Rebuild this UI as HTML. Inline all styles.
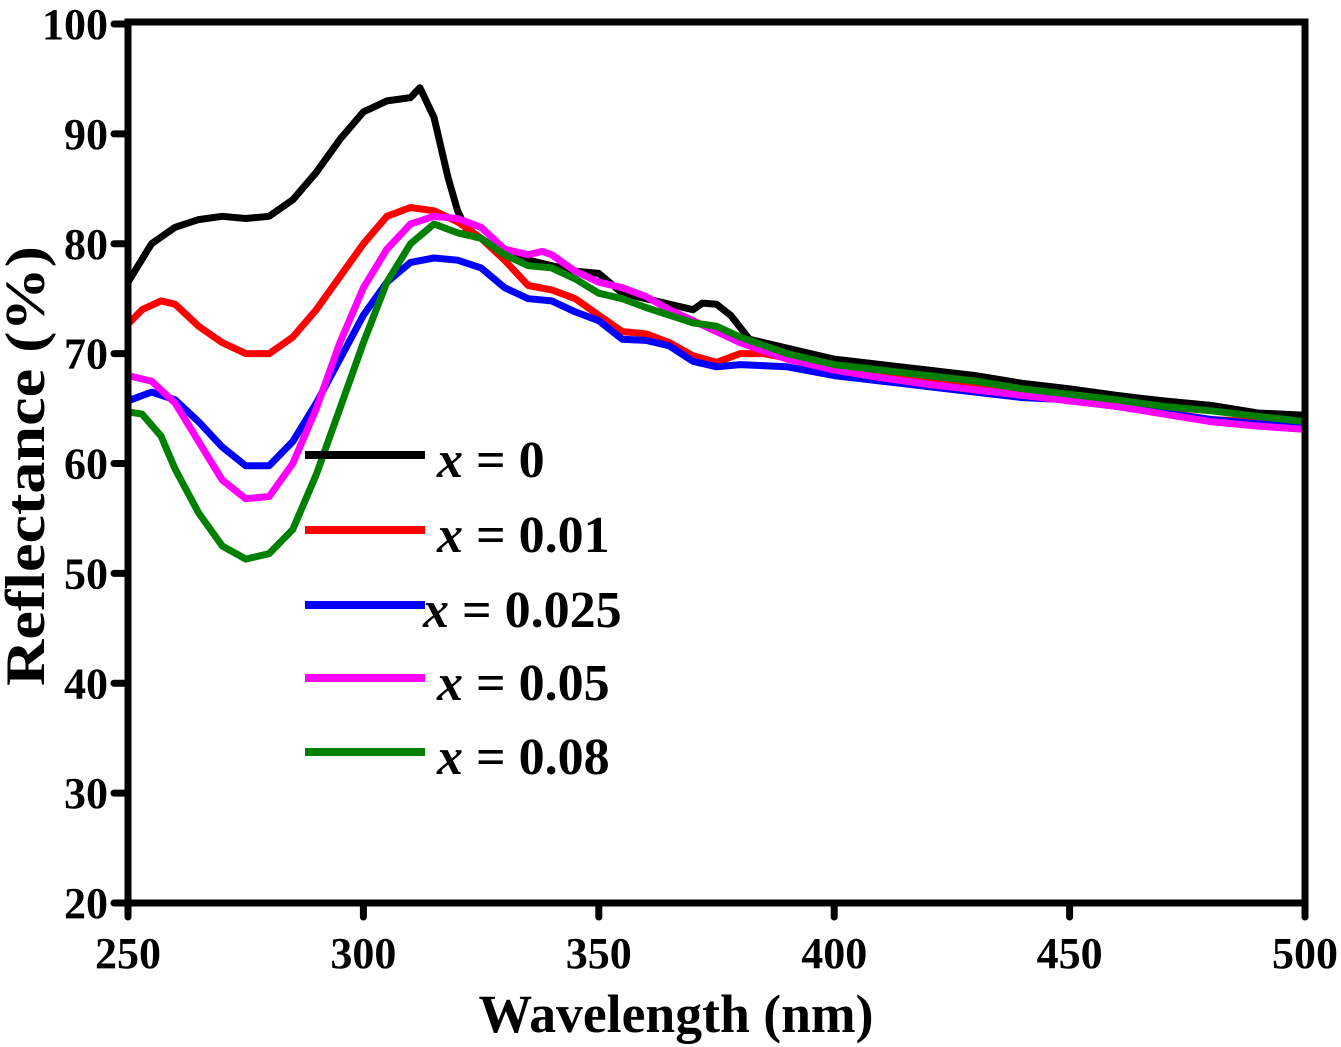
<!DOCTYPE html>
<html><head><meta charset="utf-8"><style>
html,body{margin:0;padding:0;background:#fff}
svg{display:block}
text{font-family:"Liberation Serif",serif;font-weight:bold}
</style></head><body>
<svg id="chart" width="1341" height="1047" viewBox="0 0 1341 1047" xmlns="http://www.w3.org/2000/svg">
<g id="plot"></g>
<g id="axes"></g>
<g id="legend"></g>
<text x="676" y="1032" text-anchor="middle" font-size="54" textLength="395" lengthAdjust="spacingAndGlyphs">Wavelength (nm)</text>
<text transform="translate(44,466) rotate(-90)" text-anchor="middle" font-size="56" textLength="440" lengthAdjust="spacingAndGlyphs">Reflectance (%)</text>
</svg>
<script>
const xTicks=[250,300,350,400,450,500];
const yTicks=[20,30,40,50,60,70,80,90,100];
const seriesNames=["x = 0","x = 0.01","x = 0.025","x = 0.05","x = 0.08"];
const seriesColors=["#000000","#ff0000","#0000ff","#ff00ff","#008000"];
const wl0=[250,255,260,265,270,275,280,285,290,295,300,305,310,312,315,318,320,322,325,330,335,340,345,350,355,360,365,370,372,375,378,382,390,400,410,420,430,440,450,460,470,480,490,500];
const r0=[76.5,80,81.5,82.2,82.5,82.3,82.5,84,86.5,89.5,92,93,93.3,94.2,91.5,86,83,81.2,80.5,79,78.5,78,77.5,77.3,75.5,75,74.5,74,74.6,74.5,73.5,71.3,70.5,69.5,69,68.5,68,67.3,66.8,66.2,65.7,65.3,64.6,64.4];
const wl1=[250,253,257,260,265,270,275,280,285,290,295,300,305,310,315,320,325,330,335,340,345,350,355,360,365,370,375,380,385,390,400,410,420,430,440,450,460,470,480,490,500];
const r1=[72.7,74,74.8,74.5,72.5,71,70,70,71.5,74,77,80,82.5,83.3,83,82,80.5,78.5,76.2,75.8,75,73.5,72,71.8,71,69.8,69.2,70,70,69.6,68.8,68.3,67.8,67.2,66.5,66,65.5,64.7,64,63.8,63.7];
const wl2=[250,255,260,265,270,275,280,285,290,295,300,305,310,315,320,325,330,335,340,345,350,355,360,365,370,375,380,390,400,410,420,430,440,450,460,470,480,490,500];
const r2=[65.7,66.5,65.8,63.8,61.5,59.8,59.8,62,65.5,69.5,73.5,76.5,78.3,78.7,78.5,77.8,76,75,74.8,73.8,73,71.3,71.2,70.7,69.3,68.8,69,68.8,68,67.5,67,66.5,66,65.8,65.2,64.6,64,63.6,63.5];
const wl3=[250,255,260,265,270,275,280,285,290,295,300,305,310,315,320,325,330,335,338,340,345,350,355,360,365,370,375,380,390,400,410,420,430,440,450,460,470,480,490,500];
const r3=[68,67.5,65.5,62,58.5,56.8,57,60,65,71,76,79.5,81.8,82.5,82.3,81.5,79.5,79,79.3,79,77.5,76.5,76,75.2,74,73,72,71,69.5,68.5,67.8,67.2,66.7,66.2,65.7,65.2,64.5,63.8,63.4,63.1];
const wl4=[250,253,257,260,265,270,275,280,285,290,295,300,305,310,315,320,325,330,335,340,345,350,355,360,365,370,375,380,390,400,410,420,430,440,450,460,470,480,490,500];
const r4=[64.7,64.5,62.5,59.5,55.5,52.5,51.3,51.8,54,59,65,71,76.5,80,81.8,81,80.5,79,78,77.8,76.8,75.5,75,74.2,73.5,72.8,72.5,71.5,70,69,68.5,68,67.5,66.8,66.3,65.8,65.2,64.8,64.3,63.8];
const allWl=[wl0,wl1,wl2,wl3,wl4], allR=[r0,r1,r2,r3,r4];
const NS="http://www.w3.org/2000/svg";
const X0=128,X1=1305,Y0=903,Y1=24;
const xs=v=>X0+(v-250)/(500-250)*(X1-X0);
const ys=v=>Y0+(v-20)/(100-20)*(Y1-Y0);
function mk(tag,attrs,parent){const e=document.createElementNS(NS,tag);for(const k in attrs)e.setAttribute(k,attrs[k]);parent.appendChild(e);return e;}
const plot=document.getElementById('plot'),axes=document.getElementById('axes'),legend=document.getElementById('legend');
for(let s=0;s<5;s++){
  const d=allWl[s].map((w,i)=>(i?'L':'M')+xs(w).toFixed(1)+','+ys(allR[s][i]).toFixed(1)).join('');
  const p=mk('path',{d:d,fill:'none',stroke:seriesColors[s],'stroke-width':7,'stroke-linejoin':'round'},plot);
  
  
}
const fr=mk('rect',{x:X0,y:Y1-2,width:X1-X0,height:Y0-Y1+2,fill:'none',stroke:'#000','stroke-width':7},axes);


xTicks.forEach(t=>{
  const l=mk('line',{x1:xs(t),x2:xs(t),y1:Y0,y2:Y0+14,stroke:'#000','stroke-width':7,'stroke-linecap':'round'},axes);
  
  
  const tx=mk('text',{x:xs(t),y:968,'text-anchor':'middle','font-size':44},axes);
  
  
  tx.textContent=t;
});
yTicks.forEach(t=>{
  const l=mk('line',{x1:X0-14,x2:X0,y1:ys(t),y2:ys(t),stroke:'#000','stroke-width':7,'stroke-linecap':'round'},axes);
  
  
  const tx=mk('text',{x:X0-20,y:ys(t)+15,'text-anchor':'end','font-size':44},axes);
  
  
  tx.textContent=t;
});
const ly=[455,530,605,678,752], lx=[437,437,423,437,437];
seriesNames.forEach((n,s)=>{
  const l=mk('line',{x1:305,x2:425,y1:ly[s],y2:ly[s],stroke:seriesColors[s],'stroke-width':8},legend);
  
  
  const tx=mk('text',{x:lx[s],y:ly[s]+22,'font-size':52},legend);
  
  
  const it=mk('tspan',{'font-style':'italic'},tx);it.textContent='x';
  const rest=mk('tspan',{},tx);rest.textContent=n.slice(1);
});
</script>
</body></html>
